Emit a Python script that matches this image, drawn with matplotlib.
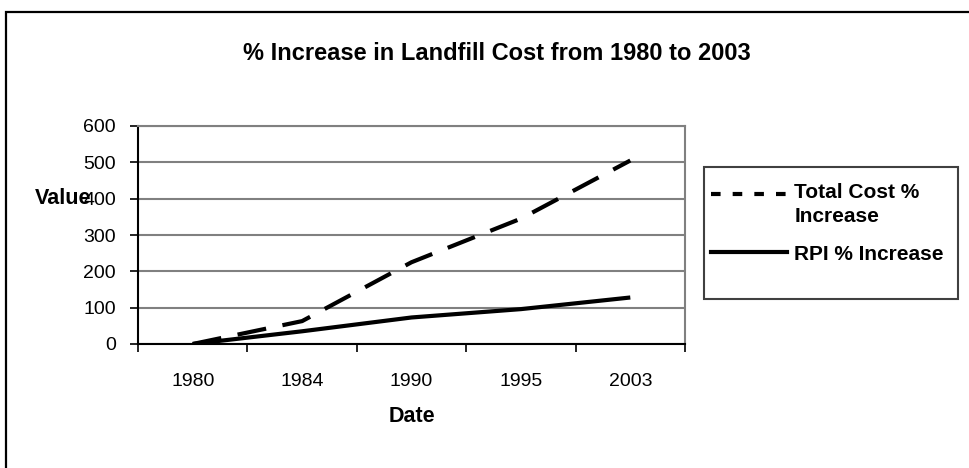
import matplotlib
matplotlib.use("Agg")
import matplotlib.pyplot as plt
from matplotlib.lines import Line2D
from matplotlib.patches import Rectangle
from matplotlib.legend_handler import HandlerLine2D

# Chart data
years = ["1980", "1984", "1990", "1995", "2003"]
total_cost = [0, 63, 225, 345, 505]
rpi = [0, 35, 73, 96, 128]

plt.rcParams["font.family"] = ["Liberation Sans", "DejaVu Sans"]


class RaisedHandler(HandlerLine2D):
    """Legend line that sits on the first line of a two line label."""

    def __init__(self, dy, **kw):
        super().__init__(**kw)
        self.dy = dy

    def create_artists(self, legend, orig_handle, xdescent, ydescent,
                       width, height, fontsize, trans):
        return super().create_artists(legend, orig_handle, xdescent,
                                      ydescent - self.dy, width, height,
                                      fontsize, trans)


W, H = 969, 468
fig = plt.figure(figsize=(W / 100, H / 100), dpi=100)

# outer chart border (runs off the bottom/right edge like the original)
fig.patches.append(Rectangle((6 / W, -0.05), 1.1, 1 - 12 / H + 0.05,
                             transform=fig.transFigure, fill=False,
                             edgecolor="black", linewidth=1.6))

# legend box drawn separately, it has extra empty space at the bottom
fig.patches.append(Rectangle((704 / W, 1 - 299 / H), (958 - 704) / W, (299 - 167) / H,
                             transform=fig.transFigure, fill=False,
                             edgecolor="#404040", linewidth=1.5))

ax = fig.add_axes([138 / W, 1 - 344 / H, (685 - 138) / W, (344 - 126) / H])

x = list(range(len(years)))
ax.plot(x, total_cost, color="black", linewidth=3, dashes=(7.0, 4.0),
        solid_capstyle="butt", dash_capstyle="butt")
ax.plot(x, rpi, color="black", linewidth=3, solid_capstyle="butt")

ax.set_xlim(-0.5, len(years) - 0.5)
ax.set_ylim(0, 600)
ax.set_yticks(range(0, 601, 100))
ax.set_xticks(x)
ax.set_xticklabels(years)
ax.set_xticks([i - 0.5 for i in range(len(years) + 1)], minor=True)
ax.tick_params(axis="x", which="major", length=0, pad=21, labelsize=14)
ax.tick_params(axis="x", which="minor", length=6, width=1.2, direction="out")
ax.tick_params(axis="y", length=6, width=1.2, direction="out", pad=10, labelsize=14)

ax.yaxis.grid(True, color="#808080", linewidth=1.5)
ax.set_axisbelow(True)
for side in ["top", "right"]:
    ax.spines[side].set_color("#808080")
    ax.spines[side].set_linewidth(1.5)
for side in ["left", "bottom"]:
    ax.spines[side].set_color("black")
    ax.spines[side].set_linewidth(1.5)

fig.text(497 / W, 1 - 53 / H, "% Increase in Landfill Cost from 1980 to 2003",
         ha="center", va="center", fontsize=17, fontweight="bold")
fig.text(35 / W, 1 - 198 / H, "Value", ha="left", va="center",
         fontsize=15.5, fontweight="bold")
fig.text(412 / W, 1 - 416 / H, "Date", ha="center", va="center",
         fontsize=15.5, fontweight="bold")

dash_handle = Line2D([], [], color="black", linewidth=3, dashes=(2.3, 2.9))
solid_handle = Line2D([], [], color="black", linewidth=3)
leg = fig.legend([dash_handle, solid_handle], ["Total Cost %\nIncrease", "RPI % Increase"],
                 loc="upper left", bbox_to_anchor=(711 / W, 1 - 183 / H),
                 frameon=False, handlelength=3.65, handletextpad=0.35,
                 borderpad=0, labelspacing=0.9, borderaxespad=0,
                 prop={"size": 15, "weight": "bold"},
                 handler_map={dash_handle: RaisedHandler(dy=16)})
leg.get_texts()[0].set_linespacing(1.33)

fig.savefig("out.png", dpi=100)
